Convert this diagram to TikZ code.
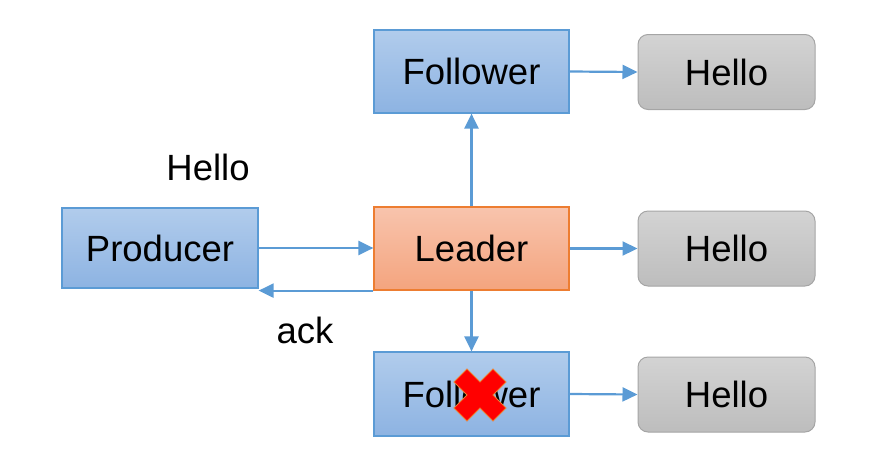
\documentclass[tikz,border=0pt]{standalone}
\usepackage{fontspec}
\setmainfont{Liberation Sans}
\usetikzlibrary{arrows.meta}
\definecolor{bluetop}{HTML}{B1CCEC}
\definecolor{bluebot}{HTML}{8DB3E2}
\definecolor{blueedge}{HTML}{5B9BD5}
\definecolor{orgtop}{HTML}{F8C4AD}
\definecolor{orgbot}{HTML}{F4A47E}
\definecolor{orgedge}{HTML}{ED7D31}
\definecolor{graytop}{HTML}{D3D3D3}
\definecolor{graybot}{HTML}{BDBDBD}
\definecolor{grayedge}{HTML}{A5A5A5}
\definecolor{arrowblue}{HTML}{5B9BD5}
\begin{document}
\begin{tikzpicture}[x=1pt,y=-1pt,
  txt/.style={font=\fontsize{36.5}{44}\selectfont, text=black, inner sep=0pt},
  bluebox/.style={txt, draw=blueedge, line width=1.2pt, top color=bluetop, bottom color=bluebot, minimum width=195pt, minimum height=83pt},
  leaderbox/.style={txt, draw=orgedge, line width=1.2pt, top color=orgtop, bottom color=orgbot, minimum width=195pt, minimum height=83pt},
  hellobox/.style={txt, draw=grayedge, line width=1pt, rounded corners=10pt, top color=graytop, bottom color=graybot, minimum width=177pt, minimum height=75pt},
  conn/.style={draw=arrowblue, line width=2.2pt, -{Triangle[length=15pt,width=14pt]}}
]
\useasboundingbox (0,0) rectangle (883,464);
\node[bluebox] (F1) at (471.5,71.5) {Follower};
\node[leaderbox] (L) at (471.5,248.5) {Leader};
\node[bluebox, minimum height=84pt] (F2) at (471.5,394) {Follower};
\node[bluebox, minimum width=196pt, minimum height=80pt] (P) at (160,248) {Producer};
\node[hellobox] (H1) at (726.5,72) {Hello};
\node[hellobox] (H2) at (726.5,248.5) {Hello};
\node[hellobox] (H3) at (726.5,394.5) {Hello};
\node[txt] (msg) at (208,167) {Hello};
\node[txt] (ack) at (305,330) {ack};
\draw[conn] (P.east) -- (L.west |- P.east);
\draw[conn] (L.south west) -- (L.south west -| P.east);
\draw[conn] (L.north) -- (F1.south);
\draw[conn] (L.south) -- (F2.north);
\draw[conn] (F1.east) -- (H1.west);
\draw[conn] (L.east) -- (H2.west);
\draw[conn] (F2.east) -- (H3.west);
% red cross
\begin{scope}[shift={(480,395)}]
\fill[red, draw=orgedge, line width=0.8pt]
  (-26,-13) -- (-13,-26) -- (0,-13) -- (13,-26) -- (26,-13) -- (13,0)
  -- (26,13) -- (13,26) -- (0,13) -- (-13,26) -- (-26,13) -- (-13,0) -- cycle;
\end{scope}
\end{tikzpicture}
\end{document}
